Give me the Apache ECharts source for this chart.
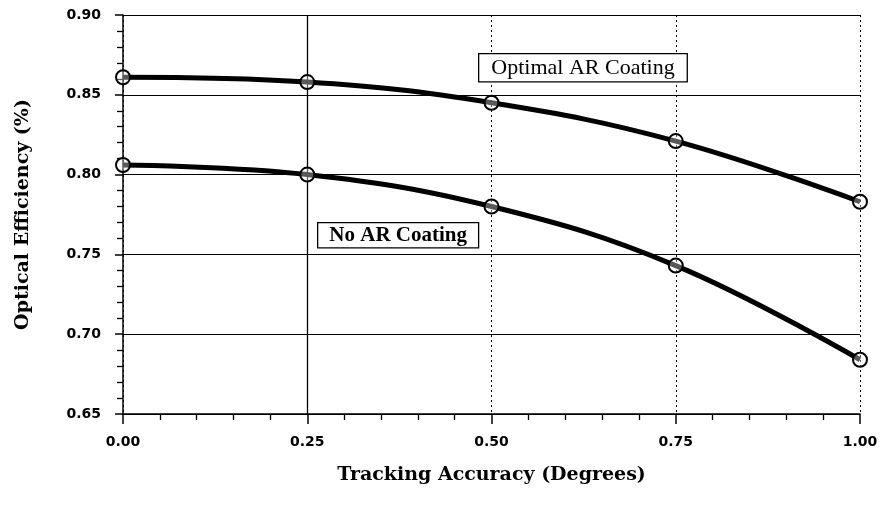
<!DOCTYPE html>
<html><head><meta charset="utf-8">
<script src="https://cdn.jsdelivr.net/npm/echarts@6/dist/echarts.min.js"></script>
<style>html,body{margin:0;padding:0;background:#fff}#c{width:881px;height:506px}</style>
</head><body><div id="c"></div>
<script>
var xValues = [0.00, 0.25, 0.50, 0.75, 1.00];
var optimalAR = [0.861, 0.858, 0.845, 0.821, 0.783];
var noAR = [0.806, 0.800, 0.780, 0.743, 0.684];
var seriesNames = ['Optimal AR Coating', 'No AR Coating'];
var xTitle = 'Tracking Accuracy (Degrees)';
var yTitle = 'Optical Efficiency (%)';

function pairs(ys){ return xValues.map(function(x,i){return [x, ys[i]];}); }

var chart = echarts.init(document.getElementById('c'));
var serifBold = {fontFamily:'DejaVu Serif', fontWeight:'bold', fontSize:19, color:'#000'};
var tickFont = {color:'#000', fontFamily:'DejaVu Sans', fontWeight:'bold', fontSize:14};
var lineSeries = function(name, ys){
  return {
    name:name, type:'line', data:pairs(ys), smooth:0.4,
    symbol:'circle', symbolSize:14,
    itemStyle:{color:'rgba(255,255,255,0.35)', borderColor:'#000', borderWidth:2},
    lineStyle:{color:'#000', width:5}, z:5
  };
};
var s1 = lineSeries(seriesNames[0], optimalAR);
s1.markLine = {silent:true, symbol:'none', label:{show:false},
  lineStyle:{color:'#000', type:'solid', width:1.3}, data:[{xAxis:0.25}]};
chart.setOption({
  animation:false,
  backgroundColor:'#fff',
  grid:{left:123, right:21, top:15, bottom:92},
  xAxis:{type:'value', min:0, max:1, interval:0.25,
    name:xTitle, nameLocation:'middle', nameGap:52, nameTextStyle:serifBold,
    axisLine:{show:true, lineStyle:{color:'#000', width:1.5}},
    axisTick:{show:true, length:10, lineStyle:{color:'#000', width:1.5}},
    minorTick:{show:true, splitNumber:5, length:6, lineStyle:{color:'#000', width:1.3}},
    axisLabel:Object.assign({margin:21, formatter:function(v){return v.toFixed(2);}}, tickFont),
    splitLine:{show:true, lineStyle:{color:'#000', type:[2,3], width:1}}
  },
  yAxis:{type:'value', min:0.65, max:0.90, interval:0.05,
    name:yTitle, nameLocation:'middle', nameGap:90, nameTextStyle:serifBold,
    axisLine:{show:true, lineStyle:{color:'#000', width:1.5}},
    axisTick:{show:true, length:8, lineStyle:{color:'#000', width:1.5}},
    minorTick:{show:true, splitNumber:5, length:6, lineStyle:{color:'#000', width:1.3}},
    axisLabel:Object.assign({margin:22, formatter:function(v){return v.toFixed(2);}}, tickFont),
    splitLine:{show:true, lineStyle:{color:'#000', width:1.2}}
  },
  graphic:[
    {type:'text', left:478, top:53, z:10, style:{text:seriesNames[0], font:'22px "Liberation Serif"', fill:'#000',
      backgroundColor:'#fff', borderColor:'#000', borderWidth:1.3, padding:[3,12,2,12]}},
    {type:'text', left:317, top:222, z:10, style:{text:seriesNames[1], font:'bold 21px "Liberation Serif"', fill:'#000',
      backgroundColor:'#fff', borderColor:'#000', borderWidth:1.3, padding:[2,11,1,11]}}
  ],
  series:[s1, lineSeries(seriesNames[1], noAR)]
});
</script></body></html>
